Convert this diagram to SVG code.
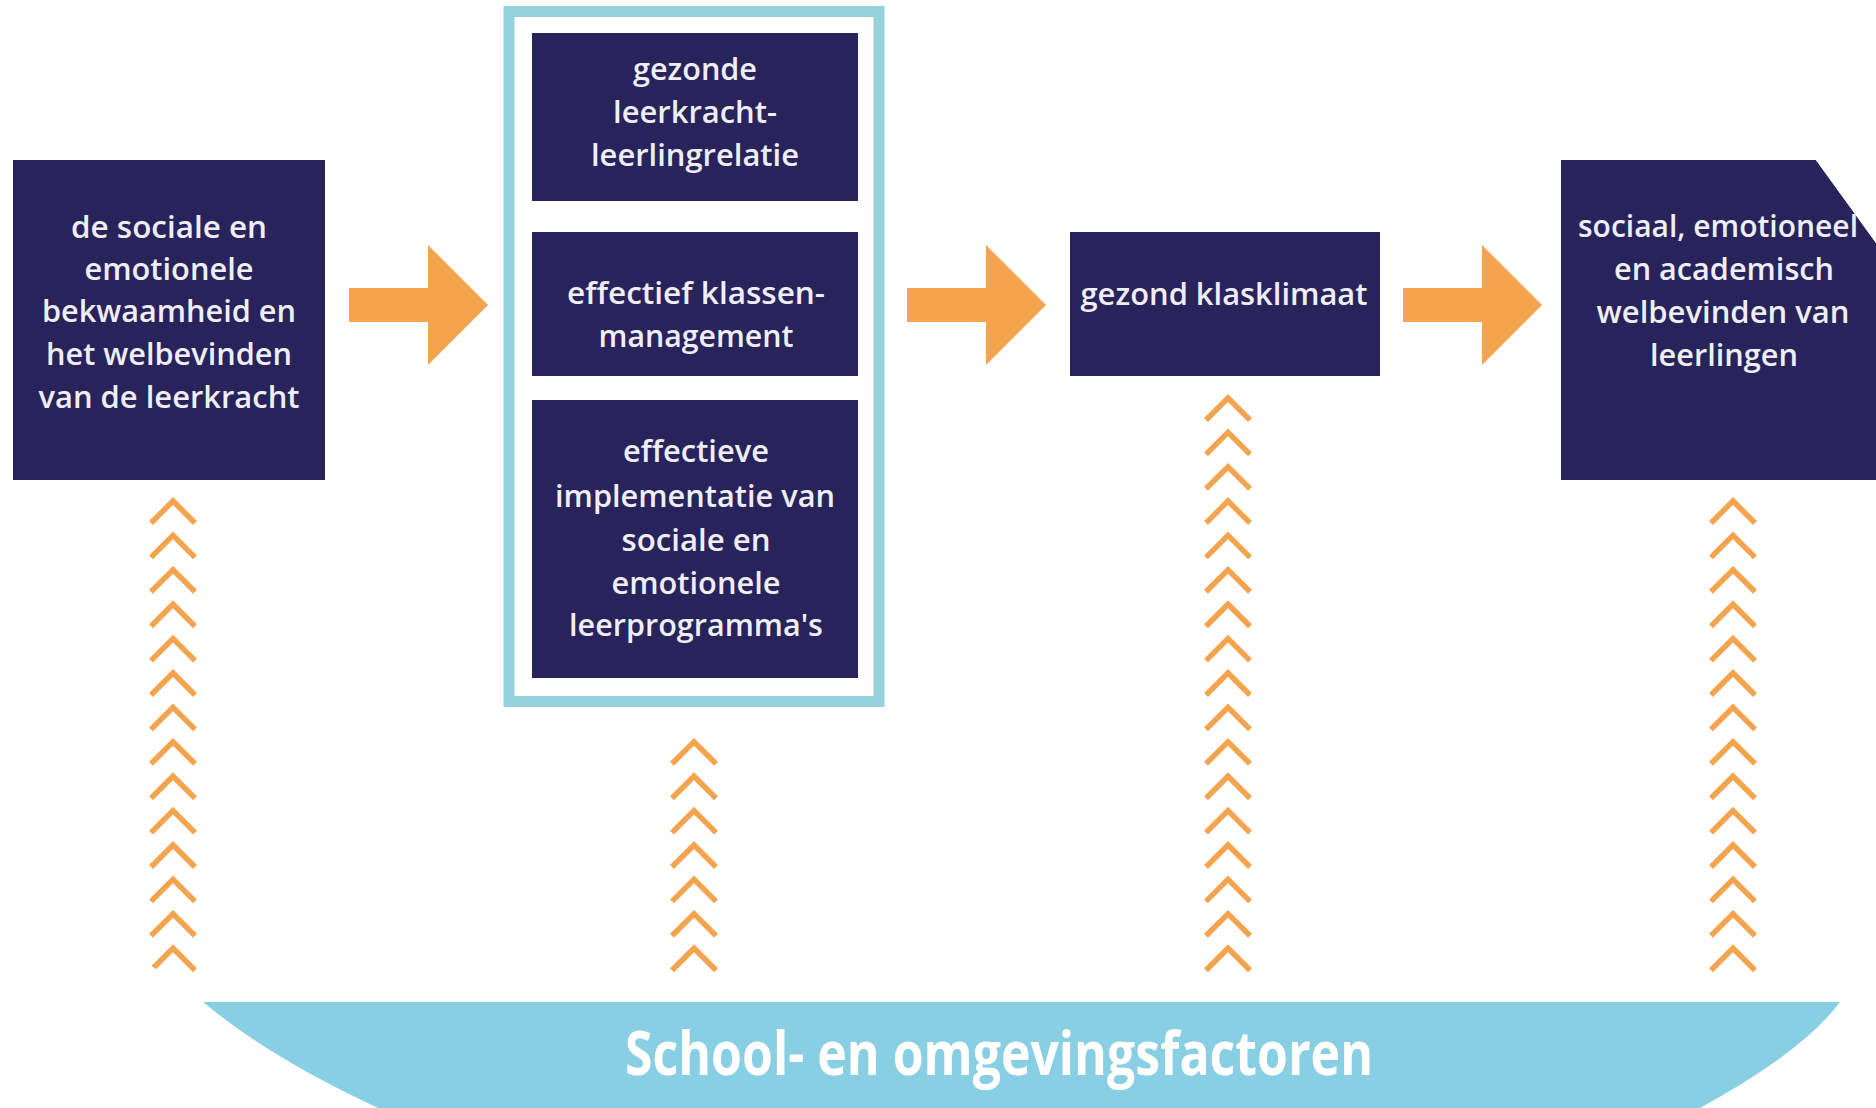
<svg xmlns="http://www.w3.org/2000/svg" xmlns:xlink="http://www.w3.org/1999/xlink" width="1876" height="1108" viewBox="0 0 1876 1108">
  <style>
    .box { fill: #29235c; }
    .lbl { font-family: "Open Sans", "Noto Sans", "DejaVu Sans", sans-serif; font-size: 31px; font-weight: 600; fill: #eeeef4; text-anchor: middle; }
    .band-lbl { font-family: "Open Sans", "Noto Sans", sans-serif; font-weight: 700; font-size: 60px; fill: #ffffff; text-anchor: middle; }
    .arrow { fill: #f5a34c; }
    .chev { fill: none; stroke: #f5a34c; stroke-width: 5.5; stroke-linejoin: miter; }
  </style>
  <defs>
    <path id="chev" class="chev" d="M-22,25 L0,3 L22,25"/>
    <clipPath id="outline">
      <path d="M0,0 L1700,0 L1876,243 L1876,965 L1840,1002 Q1804,1051 1700,1108 L378,1108 Q270,1058 203,1002 L0,860 Z"/>
    </clipPath>
    <clipPath id="lastclip">
      <path d="M1561,160 L1816,160 L1876,243 L1876,480 L1561,480 Z"/>
    </clipPath>
  </defs>

  <rect width="1876" height="1108" fill="#ffffff"/>

  <g clip-path="url(#outline)">
    <!-- background band -->
    <g id="band">
      <rect x="0" y="1002" width="1876" height="106" fill="#89cfe3"/>
      <text class="band-lbl" x="999" y="1075" textLength="748" lengthAdjust="spacingAndGlyphs">School- en omgevingsfactoren</text>
    </g>

    <!-- connectors -->
    <g id="connectors">
      <polygon class="arrow" points="349,288 428,288 428,245 488,305 428,365 428,322 349,322"/>
      <polygon class="arrow" points="907,288 986,288 986,245 1046,305 986,365 986,322 907,322"/>
      <polygon class="arrow" points="1403,288 1482,288 1482,245 1542,305 1482,365 1482,322 1403,322"/>

      <g id="chevrons-1" transform="translate(173,0)">
        <use href="#chev" y="498"/><use href="#chev" y="532.4"/><use href="#chev" y="566.8"/><use href="#chev" y="601.2"/>
        <use href="#chev" y="635.6"/><use href="#chev" y="670"/><use href="#chev" y="704.4"/><use href="#chev" y="738.8"/>
        <use href="#chev" y="773.2"/><use href="#chev" y="807.6"/><use href="#chev" y="842"/><use href="#chev" y="876.4"/>
        <use href="#chev" y="910.8"/><use href="#chev" y="945.2"/>
      </g>
      <g id="chevrons-2" transform="translate(694,0)">
        <use href="#chev" y="738.8"/><use href="#chev" y="773.2"/><use href="#chev" y="807.6"/><use href="#chev" y="842"/>
        <use href="#chev" y="876.4"/><use href="#chev" y="910.8"/><use href="#chev" y="945.2"/>
      </g>
      <g id="chevrons-3" transform="translate(1228,0)">
        <use href="#chev" y="395"/><use href="#chev" y="429.4"/><use href="#chev" y="463.8"/>
        <use href="#chev" y="498"/><use href="#chev" y="532.4"/><use href="#chev" y="566.8"/><use href="#chev" y="601.2"/>
        <use href="#chev" y="635.6"/><use href="#chev" y="670"/><use href="#chev" y="704.4"/><use href="#chev" y="738.8"/>
        <use href="#chev" y="773.2"/><use href="#chev" y="807.6"/><use href="#chev" y="842"/><use href="#chev" y="876.4"/>
        <use href="#chev" y="910.8"/><use href="#chev" y="945.2"/>
      </g>
      <g id="chevrons-4" transform="translate(1733,0)">
        <use href="#chev" y="498"/><use href="#chev" y="532.4"/><use href="#chev" y="566.8"/><use href="#chev" y="601.2"/>
        <use href="#chev" y="635.6"/><use href="#chev" y="670"/><use href="#chev" y="704.4"/><use href="#chev" y="738.8"/>
        <use href="#chev" y="773.2"/><use href="#chev" y="807.6"/><use href="#chev" y="842"/><use href="#chev" y="876.4"/>
        <use href="#chev" y="910.8"/><use href="#chev" y="945.2"/>
      </g>
    </g>

    <!-- node 1 -->
    <g id="node-teacher">
      <rect class="box" x="13" y="160" width="312" height="320"/>
      <text class="lbl" x="169" y="238" textLength="196" lengthAdjust="spacingAndGlyphs">de sociale en</text>
      <text class="lbl" x="169" y="280" textLength="169" lengthAdjust="spacingAndGlyphs">emotionele</text>
      <text class="lbl" x="169" y="322" textLength="254" lengthAdjust="spacingAndGlyphs">bekwaamheid en</text>
      <text class="lbl" x="169" y="365" textLength="246" lengthAdjust="spacingAndGlyphs">het welbevinden</text>
      <text class="lbl" x="169" y="408" textLength="261" lengthAdjust="spacingAndGlyphs">van de leerkracht</text>
    </g>

    <!-- group frame -->
    <g id="node-group">
      <rect x="509" y="11.5" width="370" height="690" fill="none" stroke="#94d2dd" stroke-width="11"/>
    </g>

    <g id="node-relation">
      <rect class="box" x="532" y="33" width="326" height="168"/>
      <text class="lbl" x="695" y="80" textLength="124" lengthAdjust="spacingAndGlyphs">gezonde</text>
      <text class="lbl" x="695" y="123" textLength="164" lengthAdjust="spacingAndGlyphs">leerkracht-</text>
      <text class="lbl" x="695" y="166" textLength="208" lengthAdjust="spacingAndGlyphs">leerlingrelatie</text>
    </g>

    <g id="node-management">
      <rect class="box" x="532" y="232" width="326" height="144"/>
      <text class="lbl" x="696" y="304" textLength="258" lengthAdjust="spacingAndGlyphs">effectief klassen-</text>
      <text class="lbl" x="696" y="347" textLength="195" lengthAdjust="spacingAndGlyphs">management</text>
    </g>

    <g id="node-programs">
      <rect class="box" x="532" y="400" width="326" height="278"/>
      <text class="lbl" x="696" y="462" textLength="146" lengthAdjust="spacingAndGlyphs">effectieve</text>
      <text class="lbl" x="695" y="507" textLength="280" lengthAdjust="spacingAndGlyphs">implementatie van</text>
      <text class="lbl" x="696" y="551" textLength="149" lengthAdjust="spacingAndGlyphs">sociale en</text>
      <text class="lbl" x="696" y="594" textLength="169" lengthAdjust="spacingAndGlyphs">emotionele</text>
      <text class="lbl" x="696" y="636" textLength="254" lengthAdjust="spacingAndGlyphs">leerprogramma's</text>
    </g>

    <g id="node-climate">
      <rect class="box" x="1070" y="232" width="310" height="144"/>
      <text class="lbl" x="1224" y="305" textLength="287" lengthAdjust="spacingAndGlyphs">gezond klasklimaat</text>
    </g>

    <g id="node-students">
      <path class="box" d="M1561,160 L1816,160 L1876,243 L1876,480 L1561,480 Z"/>
      <g clip-path="url(#lastclip)">
        <text class="lbl" x="1718" y="237" textLength="280" lengthAdjust="spacingAndGlyphs">sociaal, emotioneel</text>
      </g>
      <text class="lbl" x="1724" y="280" textLength="220" lengthAdjust="spacingAndGlyphs">en academisch</text>
      <text class="lbl" x="1723" y="323" textLength="253" lengthAdjust="spacingAndGlyphs">welbevinden van</text>
      <text class="lbl" x="1724" y="366" textLength="148" lengthAdjust="spacingAndGlyphs">leerlingen</text>
    </g>
  </g>
</svg>
